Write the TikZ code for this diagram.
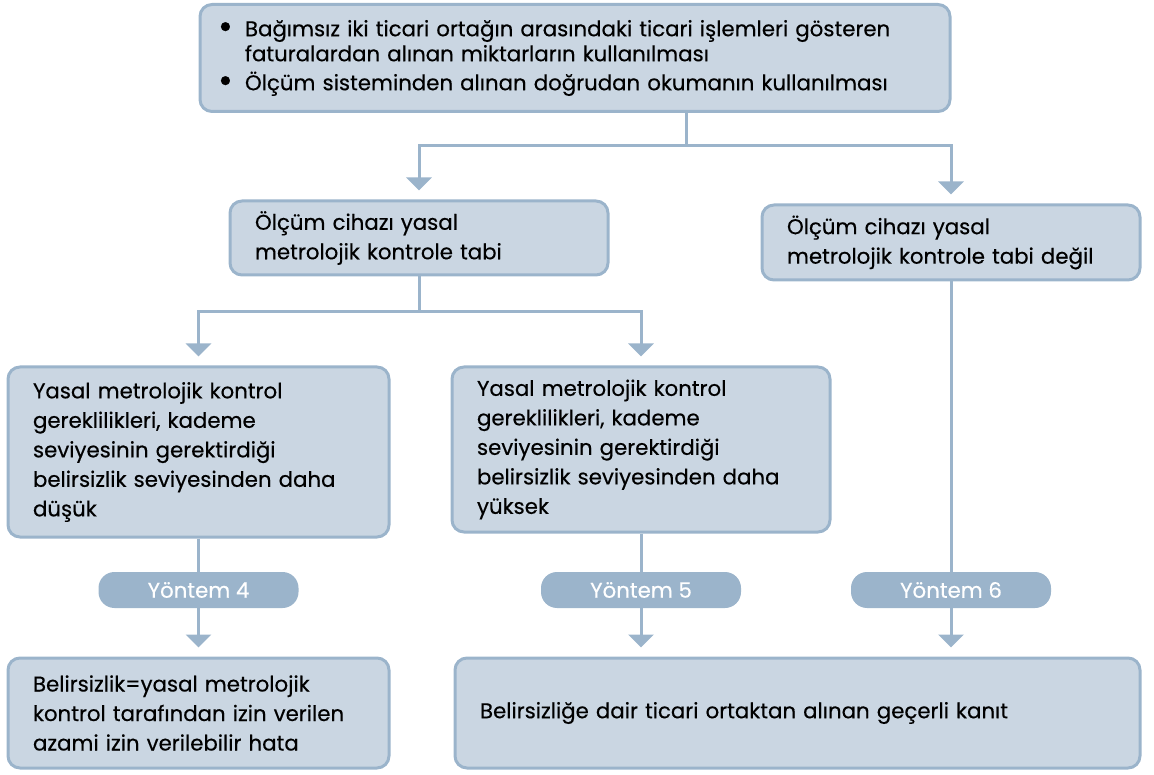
\documentclass[tikz,border=0pt]{standalone}
\usepackage{fontspec}
\setmainfont{Poppins}[UprightFeatures={FakeBold=0.4}]
\usetikzlibrary{arrows.meta}
\definecolor{boxfill}{RGB}{202,214,226}
\definecolor{boxline}{RGB}{155,180,203}
\newcommand{\itemdot}{\makebox[27pt][l]{\raisebox{-2.5pt}{\scalebox{1.7}{•}}}}

\begin{document}
\begin{tikzpicture}[x=1pt,y=-1pt,
    box/.style={draw=boxline,fill=boxfill,line width=3pt,rounded corners=12pt,
      align=left,inner xsep=25pt,inner ysep=0pt,
      font=\fontsize{21.3}{29.5}\selectfont},
    method/.style={fill=boxline,rounded corners=16pt,minimum width=200pt,
      minimum height=36pt,text=white,font=\fontsize{21.3}{22}\selectfont},
    link/.style={draw=boxline,line width=3pt},
    tip/.style={link,-{Triangle[width=25pt,length=13pt]},shorten >=9pt}]
    \useasboundingbox (0,0) rectangle (1154,775);
    \coordinate (fork1) at (686,146);
    \coordinate (fork2) at (419,312);
    \node[box,inner xsep=18pt,text width=714pt,minimum height=107pt,
      font=\fontsize{21.3}{25}\selectfont] (top) at (575,58)
      {\itemdot Bağımsız iki ticari ortağın arasındaki ticari işlemleri gösteren\\
       \hspace*{27pt}faturalardan alınan miktarların kullanılması\\[4pt]
       \itemdot Ölçüm sisteminden alınan doğrudan okumanın kullanılması};
    \node[box,text width=328pt,minimum height=74pt] (legal) at (419,238)
      {Ölçüm cihazı yasal\\metrolojik kontrole tabi};
    \node[box,text width=328pt,minimum height=75pt] (notlegal) at (951,242.5)
      {Ölçüm cihazı yasal\\metrolojik kontrole tabi değil};
    \node[box,text width=331pt,minimum height=170pt] (lower) at (198.5,452)
      {Yasal metrolojik kontrol\\gereklilikleri, kademe\\seviyesinin gerektirdiği\\belirsizlik seviyesinden daha\\düşük};
    \node[box,text width=328pt,minimum height=165pt] (higher) at (641,449.5)
      {Yasal metrolojik kontrol\\gereklilikleri, kademe\\seviyesinin gerektirdiği\\belirsizlik seviyesinden daha\\yüksek};
    \node[box,text width=331pt,minimum height=110pt] (mpe) at (198.5,713)
      {Belirsizlik=yasal metrolojik\\kontrol tarafından izin verilen\\azami izin verilebilir hata};
    \node[box,text width=635pt,minimum height=110pt] (evidence) at (797.5,713)
      {Belirsizliğe dair ticari ortaktan alınan geçerli kanıt};
    \draw[link] (top.south -| fork1) -- (fork1);
    \draw[tip] (fork1) -| (legal.north);
    \draw[tip] (fork1) -| (notlegal.north);
    \draw[link] (legal.south) -- (fork2);
    \draw[tip] (fork2) -| (lower.north);
    \draw[tip] (fork2) -| (higher.north);
    \node[method] (m4) at (198.5,590) {Yöntem 4};
    \node[method] (m5) at (641,590) {Yöntem 5};
    \node[method] (m6) at (951,590) {Yöntem 6};
    \draw[link] (lower.south) -- (m4.north);
    \draw[tip] (m4.south) -- (mpe.north);
    \draw[link] (higher.south) -- (m5.north);
    \draw[tip] (m5.south) -- (m5.south |- evidence.north);
    \draw[link] (notlegal.south) -- (m6.north);
    \draw[tip] (m6.south) -- (m6.south |- evidence.north);
\end{tikzpicture}
\end{document}
